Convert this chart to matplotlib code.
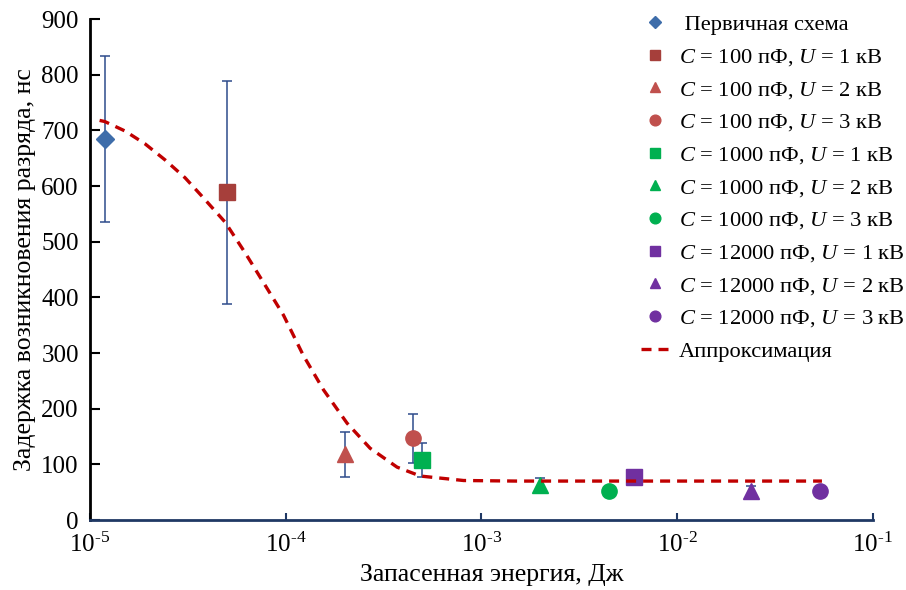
import numpy as np
import matplotlib
matplotlib.use("Agg")
import matplotlib.pyplot as plt
from matplotlib.ticker import FixedLocator, FuncFormatter, NullLocator

plt.rcParams['font.family'] = ['Liberation Serif', 'DejaVu Serif']
plt.rcParams['mathtext.fontset'] = 'custom'
plt.rcParams['mathtext.rm'] = 'Liberation Serif'
plt.rcParams['mathtext.it'] = 'Liberation Serif:italic'

# экспериментальные точки: энергия (Дж), задержка (нс), погрешность (нс)
labels = [' Первичная схема',
          '$C$ = 100 пФ, $U$ = 1 кВ', '$C$ = 100 пФ, $U$ = 2 кВ', '$C$ = 100 пФ, $U$ = 3 кВ',
          '$C$ = 1000 пФ, $U$ = 1 кВ', '$C$ = 1000 пФ, $U$ = 2 кВ', '$C$ = 1000 пФ, $U$ = 3 кВ',
          '$C$ = 12000 пФ, $U$ = 1 кВ', '$C$ = 12000 пФ, $U$ = 2 кВ', '$C$ = 12000 пФ, $U$ = 3 кВ']
energy = [1.19e-5, 5.0e-5, 2.0e-4, 4.47e-4, 5.0e-4, 2.0e-3, 4.47e-3, 6.0e-3, 2.4e-2, 5.4e-2]
delay = [684, 589, 118, 147, 108, 63, 52, 77, 52, 53]
err = [149, 200, 40, 44, 30, 12, 4, 13, 10, 4]

markers = ['D', 's', '^', 'o', 's', '^', 'o', 's', '^', 'o']
colors = ['#3E6DAA', '#A63F3B', '#C0504D', '#C0504D', '#00B050', '#00B050', '#00B050',
          '#7030A0', '#7030A0', '#7030A0']
msizes = [9, 11, 11, 11, 11, 11, 11, 11, 11, 11]

fit_e = [1.12e-5, 1.19e-5, 1.51e-5, 1.91e-5, 2.42e-5, 3.06e-5, 3.73e-5, 4.91e-5, 6.21e-5, 7.85e-5,
         9.75e-5, 1.23e-4, 1.56e-4, 2.06e-4, 2.70e-4, 3.71e-4, 4.88e-4, 8.11e-4,
         1.5e-3, 5e-3, 2e-2, 5.5e-2]
fit_d = [718, 716, 699, 676, 647, 615, 582, 535, 480, 422,
         368, 296, 234, 174, 129, 95, 79, 71,
         70, 70, 70, 70]

fig = plt.figure(figsize=(9.06, 5.9), dpi=100)
ax = fig.add_axes([0.0993, 0.1186, 0.864, 0.849])

for i in range(len(energy)):
    ax.errorbar(energy[i], delay[i], yerr=err[i], fmt='none', ecolor='#2E4C8C',
                elinewidth=1.3, capsize=3.5, capthick=1.3, alpha=0.85, zorder=2)
for i in range(len(energy)):
    ax.plot(energy[i], delay[i], linestyle='none', marker=markers[i], color=colors[i],
            markersize=msizes[i], markeredgecolor=colors[i], label=labels[i], zorder=3)

ax.plot(fit_e, fit_d, '--', color='#C00000', lw=2.4, dashes=(3, 2.1),
        label='Аппроксимация', zorder=4)

ax.set_xscale('log')
ax.set_xlim(1e-5, 1e-1)
ax.set_ylim(0, 900)
ax.xaxis.set_major_locator(FixedLocator([1e-5, 1e-4, 1e-3, 1e-2, 1e-1]))
ax.xaxis.set_minor_locator(NullLocator())
ax.xaxis.set_major_formatter(
    FuncFormatter(lambda v, p: '10$^{\\text{-%d}}$' % round(-np.log10(v))))
ax.set_yticks(np.arange(0, 901, 100))

for s in ['top', 'right']:
    ax.spines[s].set_visible(False)
ax.spines['left'].set_color('black')
ax.spines['left'].set_linewidth(2)
ax.spines['bottom'].set_color('#1F3864')
ax.spines['bottom'].set_linewidth(2)
ax.tick_params(axis='y', direction='in', length=7, width=1.5, labelsize=18, pad=8)
ax.tick_params(axis='x', direction='in', length=5, width=1.5, color='#1F3864',
               labelsize=18, pad=9)

ax.set_xlabel('Запасенная энергия, Дж', fontsize=18.5)
ax.xaxis.set_label_coords(0.513, -0.088)
ax.set_ylabel('Задержка возникновения разряда, нс', fontsize=18.5, labelpad=4)

leg = ax.legend(loc='upper left', bbox_to_anchor=(0.693, 1.027), frameon=False, fontsize=16.2,
                handlelength=1.2, handletextpad=0.45, labelspacing=0.51, markerscale=0.7,
                borderaxespad=0)

fig.savefig('out.png', dpi=100)
